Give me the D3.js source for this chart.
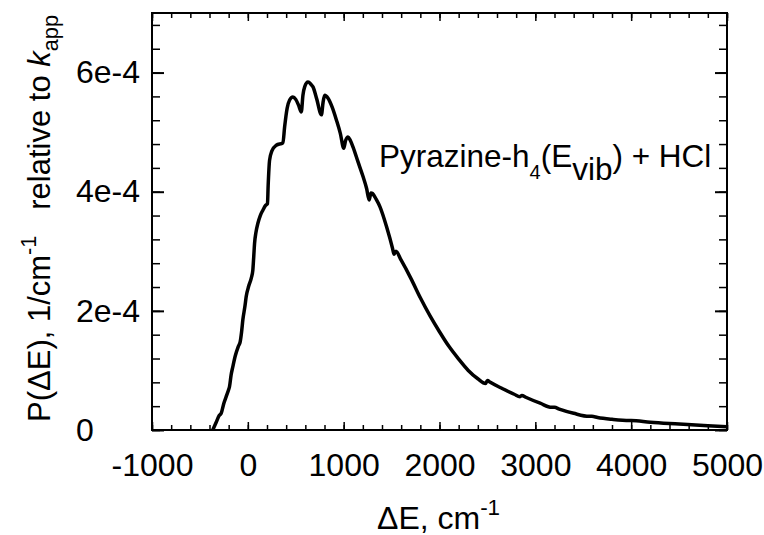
<!DOCTYPE html>
<html>
<head>
<meta charset="utf-8">
<script src="https://cdn.jsdelivr.net/npm/d3@7"></script>
<style>
  html, body { margin: 0; padding: 0; background: #fff; }
  svg { display: block; }
  text { font-family: "Liberation Sans", Arial, Helvetica, sans-serif; fill: #000; white-space: pre; }
</style>
</head>
<body>
<svg id="chart" width="764" height="535"></svg>
<script>
// ---- data ----
const deltaE = [-366,-330,-300,-278,-250,-226,-200,-191,-175,-157,-130,-100,-80,-65,-52,-30,-17,10,36,52,62,70,85,105,130,157,185,205,212,227,250,297,366,384,410,436,470,500,530,558,575,593,628,660,680,720,768,785,802,837,880,925,965,1001,1020,1046,1070,1098,1150,1203,1240,1266,1285,1301,1340,1378,1450,1510,1525,1545,1600,1700,1800,1900,2000,2100,2200,2300,2400,2480,2500,2530,2650,2780,2840,2860,2900,3050,3170,3200,3250,3400,3560,3590,3650,3800,3980,4000,4200,4500,4800,5000];
const probability = [0,0.13e-4,0.24e-4,0.28e-4,0.45e-4,0.56e-4,0.68e-4,0.73e-4,0.92e-4,1.06e-4,1.25e-4,1.40e-4,1.48e-4,1.65e-4,1.85e-4,2.08e-4,2.24e-4,2.42e-4,2.55e-4,2.68e-4,2.92e-4,3.13e-4,3.32e-4,3.47e-4,3.60e-4,3.69e-4,3.77e-4,3.80e-4,4.10e-4,4.53e-4,4.68e-4,4.78e-4,4.82e-4,5.09e-4,5.40e-4,5.54e-4,5.59e-4,5.55e-4,5.45e-4,5.34e-4,5.62e-4,5.76e-4,5.84e-4,5.80e-4,5.76e-4,5.55e-4,5.29e-4,5.50e-4,5.62e-4,5.57e-4,5.42e-4,5.20e-4,4.98e-4,4.73e-4,4.86e-4,4.92e-4,4.86e-4,4.75e-4,4.50e-4,4.25e-4,4.05e-4,3.86e-4,3.98e-4,3.97e-4,3.87e-4,3.75e-4,3.40e-4,3.05e-4,2.95e-4,3.00e-4,2.85e-4,2.55e-4,2.22e-4,1.92e-4,1.65e-4,1.40e-4,1.19e-4,1.00e-4,0.86e-4,0.78e-4,0.83e-4,0.80e-4,0.70e-4,0.60e-4,0.56e-4,0.58e-4,0.55e-4,0.45e-4,0.38e-4,0.38e-4,0.35e-4,0.28e-4,0.23e-4,0.23e-4,0.21e-4,0.18e-4,0.16e-4,0.16e-4,0.13e-4,0.10e-4,0.07e-4,0.055e-4];

const xMajorTicks = [-1000, 0, 1000, 2000, 3000, 4000, 5000];
const xTickLabels = ["-1000", "0", "1000", "2000", "3000", "4000", "5000"];
const xMinorTicks = d3.range(-1000, 5001, 200);
const yMajorTicks = [0, 2e-4, 4e-4, 6e-4];
const yTickLabels = ["0", "2e-4", "4e-4", "6e-4"];
const yMinorTicks = d3.range(0, 18).map(i => i * 0.4e-4);

// ---- layout ----
const L = 152, R = 727, T = 13, B = 430;
const svg = d3.select("#chart");
const x = d3.scaleLinear().domain([-1000, 5000]).range([L, R]);
const y = d3.scaleLinear().domain([0, 7e-4]).range([B, T]);
const FS = 32;

function styleTicks(g, w) {
  g.select(".domain").remove();
  g.selectAll(".tick line").attr("stroke", "#000").attr("stroke-width", w);
}

// bottom
svg.append("g").attr("transform", `translate(0,${B})`)
  .call(d3.axisBottom(x).tickValues(xMinorTicks).tickSize(-5).tickFormat(""))
  .call(g => styleTicks(g, 1.5));
const bx = svg.append("g").attr("transform", `translate(0,${B})`)
  .call(d3.axisBottom(x).tickValues(xMajorTicks).tickSize(-8).tickPadding(23)
    .tickFormat((d, i) => xTickLabels[i]))
  .call(g => styleTicks(g, 1.5));
bx.selectAll(".tick text").attr("font-size", FS).attr("font-family", null).attr("fill", "#000");

// top
svg.append("g").attr("transform", `translate(0,${T})`)
  .call(d3.axisTop(x).tickValues(xMinorTicks).tickSize(-5).tickFormat(""))
  .call(g => styleTicks(g, 1.5));
svg.append("g").attr("transform", `translate(0,${T})`)
  .call(d3.axisTop(x).tickValues(xMajorTicks).tickSize(-8).tickFormat(""))
  .call(g => styleTicks(g, 1.5));

// left
svg.append("g").attr("transform", `translate(${L},0)`)
  .call(d3.axisLeft(y).tickValues(yMinorTicks).tickSize(-8).tickFormat(""))
  .call(g => styleTicks(g, 1.5));
const ly = svg.append("g").attr("transform", `translate(${L},0)`)
  .call(d3.axisLeft(y).tickValues(yMajorTicks).tickSize(-12)
    .tickFormat((d, i) => yTickLabels[i]))
  .call(g => styleTicks(g, 2));
ly.selectAll(".tick text").attr("font-size", FS).attr("font-family", null).attr("fill", "#000")
  .attr("text-anchor", "start").attr("x", 76 - L);

// right
svg.append("g").attr("transform", `translate(${R},0)`)
  .call(d3.axisRight(y).tickValues(yMinorTicks).tickSize(-8).tickFormat(""))
  .call(g => styleTicks(g, 1.5));
svg.append("g").attr("transform", `translate(${R},0)`)
  .call(d3.axisRight(y).tickValues(yMajorTicks).tickSize(-12).tickFormat(""))
  .call(g => styleTicks(g, 2));

// frame
svg.append("rect").attr("x", L).attr("y", T).attr("width", R - L).attr("height", B - T)
  .attr("fill", "none").attr("stroke", "#000").attr("stroke-width", 2);

// curve
const pts = deltaE.map((d, i) => [d, probability[i]]);
const clipId = "plotclip";
svg.append("clipPath").attr("id", clipId).append("rect")
  .attr("x", L).attr("y", T).attr("width", R - L).attr("height", B - T);
svg.append("path").datum(pts)
  .attr("clip-path", `url(#${clipId})`)
  .attr("fill", "none").attr("stroke", "#000").attr("stroke-width", 3.5)
  .attr("stroke-linejoin", "round").attr("stroke-linecap", "round")
  .attr("d", d3.line().x(d => x(d[0])).y(d => y(d[1])).curve(d3.curveMonotoneX));

// x title
const xt = svg.append("text").attr("x", 377).attr("y", 529).attr("font-size", FS);
xt.append("tspan").text("ΔE, cm");
xt.append("tspan").attr("font-size", FS * 0.7).attr("dy", -14).text("-1");

// y title
const YFS = 31;
const yt = svg.append("text").attr("transform", "translate(50,422) rotate(-90)").attr("font-size", YFS);
yt.append("tspan").text("P(ΔE), 1/cm");
yt.append("tspan").attr("font-size", YFS * 0.7).attr("dy", -14).text("-1");
yt.append("tspan").attr("dy", 14).text("   relative to ");
yt.append("tspan").attr("font-style", "italic").text("k");
yt.append("tspan").attr("font-size", YFS * 0.7).attr("dy", 8).text("app");

// annotation
const an = svg.append("text").attr("x", 379).attr("y", 167).attr("font-size", 31.5);
an.append("tspan").text("Pyrazine-h");
an.append("tspan").attr("font-size", 20).attr("dy", 12).text("4");
an.append("tspan").attr("dy", -12).text("(E");
an.append("tspan").attr("dy", 13).text("vib");
an.append("tspan").attr("dy", -13).text(") + HCl");
</script>
</body>
</html>
